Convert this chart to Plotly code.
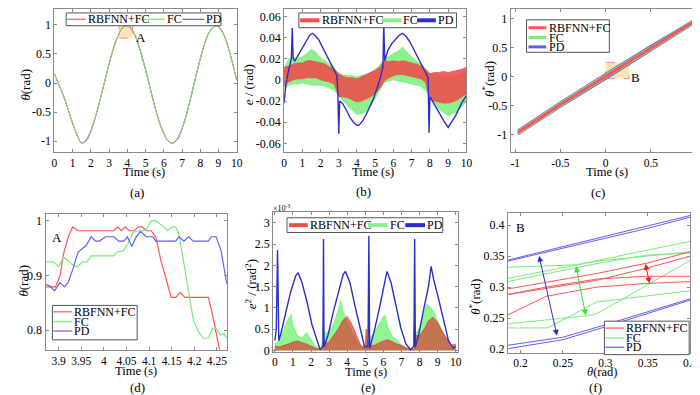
import plotly.graph_objects as go

W, H = 700, 395
FONT = "Liberation Serif"
series_names = ["RBFNN+FC", "FC", "PD"]
RED = "rgb(255,85,85)"
GREEN = "rgb(120,235,120)"
BLUE = "rgb(95,95,245)"
DBLUE = "rgb(45,45,205)"

# ---------------- (a) theta vs time ----------------
t_a = [0, 0.25, 0.5, 0.75, 1.0, 1.25, 1.5, 1.75, 2.0, 2.25, 2.5, 2.75, 3.0, 3.25, 3.5, 3.75,
       4.0, 4.25, 4.5, 4.75, 5.0, 5.25, 5.5, 5.75, 6.0, 6.25, 6.5, 6.75, 7.0, 7.25, 7.5, 7.75,
       8.0, 8.25, 8.5, 8.75, 9.0, 9.25, 9.5, 9.75, 10.0]
theta_a_rbf = [0.16, -0.03, -0.22, -0.45, -0.69, -0.90, -1.03, -0.97, -0.815, -0.58, -0.29, 0.02,
               0.33, 0.61, 0.82, 0.95, 0.98, 0.91, 0.75, 0.51, 0.22, -0.09, -0.40, -0.67, -0.87,
               -1.00, -1.03, -0.95, -0.78, -0.53, -0.22, 0.11, 0.42, 0.69, 0.88, 0.97, 0.96, 0.85,
               0.64, 0.36, 0.04]
theta_a_fc = [0.16, -0.03, -0.22, -0.45, -0.69, -0.90, -1.03, -0.97, -0.815, -0.58, -0.29, 0.02,
              0.33, 0.61, 0.82, 0.95, 0.98, 0.91, 0.75, 0.51, 0.22, -0.09, -0.40, -0.67, -0.87,
              -1.00, -1.03, -0.95, -0.78, -0.53, -0.22, 0.11, 0.42, 0.69, 0.88, 0.97, 0.96, 0.85,
              0.64, 0.36, 0.04]
theta_a_pd = [0.16, -0.03, -0.22, -0.45, -0.69, -0.90, -1.03, -0.99, -0.83, -0.59, -0.30, 0.01,
              0.32, 0.60, 0.81, 0.95, 0.98, 0.92, 0.76, 0.52, 0.23, -0.08, -0.39, -0.66, -0.86,
              -1.00, -1.03, -0.97, -0.79, -0.54, -0.23, 0.10, 0.41, 0.68, 0.87, 0.97, 0.97, 0.86,
              0.65, 0.37, 0.05]

# ---------------- (b) tracking error ----------------
t_b = [0, 0.25, 0.5, 0.75, 1.0, 1.25, 1.5, 1.75, 2.0, 2.25, 2.5, 2.75, 3.0, 3.25, 3.5, 3.75,
       4.0, 4.25, 4.5, 4.75, 5.0, 5.25, 5.5, 5.75, 6.0, 6.25, 6.5, 6.75, 7.0, 7.25, 7.5, 7.75,
       8.0, 8.25, 8.5, 8.75, 9.0, 9.25, 9.5, 9.75, 10.0]
e_rbf_upper = [0.012, 0.013, 0.015, 0.016, 0.016, 0.018, 0.018, 0.017, 0.016, 0.015, 0.012, 0.010,
               0.006, 0.003, 0.002, 0.002, 0.001, 0.003, 0.005, 0.007, 0.009, 0.012, 0.018, 0.017,
               0.018, 0.017, 0.018, 0.017, 0.016, 0.015, 0.013, 0.010, 0.006, 0.007, 0.007, 0.008,
               0.007, 0.008, 0.009, 0.010, 0.012]
e_rbf_lower = [-0.006, -0.002, 0.000, 0.001, 0.001, 0.002, 0.002, 0.002, 0.000, -0.001, -0.002,
               -0.004, -0.016, -0.016, -0.017, -0.019, -0.021, -0.020, -0.018, -0.016, -0.013,
               -0.008, -0.001, 0.002, 0.004, 0.005, 0.005, 0.004, 0.003, 0.002, 0.001, -0.002,
               -0.018, -0.020, -0.021, -0.022, -0.022, -0.021, -0.019, -0.016, -0.013]
e_fc_upper = [0.010, 0.020, 0.022, 0.020, 0.022, 0.025, 0.029, 0.026, 0.021, 0.018, 0.015, 0.012,
              0.005, 0.005, 0.004, 0.004, 0.003, 0.004, 0.005, 0.007, 0.010, 0.014, 0.020, 0.022,
              0.025, 0.027, 0.031, 0.026, 0.022, 0.018, 0.015, 0.011, 0.005, 0.005, 0.004, 0.004,
              0.003, 0.004, 0.005, 0.007, 0.010]
e_fc_lower = [-0.010, -0.005, -0.004, -0.004, -0.003, -0.004, -0.005, -0.005, -0.005, -0.006,
              -0.008, -0.010, -0.015, -0.020, -0.025, -0.029, -0.033, -0.032, -0.030, -0.025,
              -0.018, -0.010, -0.002, -0.001, 0.000, -0.001, -0.002, -0.003, -0.004, -0.005,
              -0.006, -0.010, -0.015, -0.022, -0.028, -0.031, -0.034, -0.032, -0.030, -0.026,
              -0.020]
t_b_pd = [0.0, 0.1, 0.2, 0.3, 0.4, 0.45, 0.5, 0.6, 0.8, 1.0, 1.2, 1.4, 1.55, 1.7, 1.9, 2.1, 2.3,
          2.5, 2.7, 2.9, 2.95, 3.0, 3.05, 3.2, 3.4, 3.6, 3.8, 4.0, 4.1, 4.3, 4.5, 4.7, 4.9, 5.1,
          5.3, 5.42, 5.47, 5.52, 5.7, 5.9, 6.1, 6.3, 6.5, 6.7, 6.9, 7.1, 7.3, 7.5, 7.7, 7.9, 7.95,
          8.0, 8.2, 8.4, 8.6, 8.8, 9.0, 9.2, 9.4, 9.6, 9.8, 10.0]
e_pd = [-0.022, -0.005, 0.005, 0.012, 0.020, 0.049, 0.020, 0.018, 0.024, 0.031, 0.037, 0.042,
        0.044, 0.042, 0.038, 0.031, 0.025, 0.017, 0.010, 0.004, -0.012, -0.051, -0.020, -0.022,
        -0.028, -0.035, -0.040, -0.043, -0.043, -0.039, -0.033, -0.026, -0.018, -0.008, 0.003,
        0.012, 0.052, 0.018, 0.028, 0.034, 0.038, 0.042, 0.044, 0.041, 0.036, 0.029, 0.022, 0.015,
        0.008, 0.002, -0.050, -0.016, -0.022, -0.028, -0.035, -0.040, -0.045, -0.040, -0.034,
        -0.027, -0.020, -0.015]

# ---------------- (c) theta* vs theta ----------------
x_c = [-0.97, -0.5, 0.0, 0.5, 0.97]
c_rbf_1 = [-0.960, -0.480, 0.005, 0.490, 0.945]
c_rbf_2 = [-0.950, -0.470, 0.020, 0.500, 0.950]
c_fc_1 = [-0.975, -0.495, -0.010, 0.475, 0.930]
c_fc_2 = [-0.940, -0.455, 0.035, 0.515, 0.955]
c_pd_1 = [-0.985, -0.510, -0.030, 0.455, 0.920]
c_pd_2 = [-0.930, -0.440, 0.050, 0.530, 0.965]

# ---------------- (d) zoom A ----------------
t_d_rbf = [3.871, 3.893, 3.903, 3.911, 3.921, 3.931, 3.943, 4.022, 4.031, 4.039, 4.047, 4.056,
           4.067, 4.076, 4.085, 4.094, 4.105, 4.115, 4.126, 4.137, 4.149, 4.159, 4.169, 4.179,
           4.231, 4.239, 4.248, 4.258]
th_d_rbf = [0.879, 0.879, 0.899, 0.940, 0.970, 0.989, 0.982, 0.982, 0.989, 0.982, 0.989, 0.982,
            0.982, 0.989, 0.989, 0.982, 0.982, 0.970, 0.928, 0.893, 0.860, 0.860, 0.869, 0.860,
            0.860, 0.833, 0.791, 0.755]
t_d_fc = [3.871, 3.889, 3.900, 3.911, 3.921, 3.932, 3.941, 3.954, 3.963, 3.972, 4.022, 4.029,
          4.044, 4.054, 4.065, 4.076, 4.087, 4.094, 4.105, 4.115, 4.130, 4.141, 4.151, 4.159,
          4.166, 4.177, 4.187, 4.198, 4.209, 4.220, 4.231, 4.240, 4.248, 4.258, 4.265, 4.272]
th_d_fc = [0.925, 0.925, 0.916, 0.934, 0.927, 0.919, 0.916, 0.925, 0.925, 0.936, 0.936, 0.943,
           0.946, 0.959, 0.979, 0.982, 0.982, 0.985, 1.000, 1.000, 0.991, 0.982, 0.989, 0.989,
           0.976, 0.922, 0.866, 0.818, 0.797, 0.785, 0.785, 0.803, 0.803, 0.791, 0.794, 0.785]
t_d_pd = [3.871, 3.880, 3.891, 3.903, 3.913, 3.921, 3.932, 3.943, 3.961, 3.972, 3.982, 3.990,
          4.004, 4.022, 4.033, 4.044, 4.052, 4.062, 4.071, 4.081, 4.094, 4.108, 4.115, 4.159,
          4.166, 4.177, 4.187, 4.198, 4.231, 4.238, 4.248, 4.259, 4.272]
th_d_pd = [0.884, 0.881, 0.872, 0.887, 0.879, 0.887, 0.913, 0.943, 0.955, 0.971, 0.963, 0.963,
           0.971, 0.971, 0.963, 0.963, 0.971, 0.953, 0.970, 0.981, 0.971, 0.971, 0.963, 0.963,
           0.971, 0.963, 0.971, 0.963, 0.963, 0.971, 0.971, 0.946, 0.884]

# ---------------- (e) squared error (x1e-3) ----------------
t_e_fc = [0, 0.25, 0.5, 0.75, 0.9, 1.0, 1.25, 1.5, 1.75, 2.0, 2.25, 2.5, 2.6, 2.65, 2.75, 3.0,
          3.25, 3.5, 3.65, 3.75, 4.0, 4.25, 4.5, 4.75, 5.0, 5.1, 5.15, 5.25, 5.5, 5.75, 6.0, 6.1,
          6.25, 6.5, 6.75, 7.0, 7.25, 7.5, 7.65, 7.7, 7.75, 8.0, 8.25, 8.4, 8.5, 8.75, 9.0, 9.25,
          9.5, 9.75, 10]
e2_fc = [0.15, 0.25, 0.5, 0.75, 0.85, 0.6, 0.35, 0.3, 0.42, 0.25, 0.1, 0.04, 0.02, 0.55, 0.4,
         0.45, 0.62, 0.95, 1.18, 0.95, 0.7, 0.45, 0.25, 0.1, 0.04, 0.5, 0.1, 0.3, 0.42, 0.62, 0.8,
         0.82, 0.55, 0.32, 0.25, 0.12, 0.05, 0.03, 0.02, 0.65, 0.35, 0.55, 0.9, 1.08, 1.05, 0.95,
         0.7, 0.45, 0.25, 0.06, 0.05]
t_e_rbf = [0, 0.25, 0.5, 0.75, 1.0, 1.25, 1.5, 1.75, 2.0, 2.25, 2.5, 2.65, 2.7, 2.75, 3.0, 3.25,
           3.5, 3.75, 4.0, 4.25, 4.5, 4.75, 5.0, 5.05, 5.1, 5.25, 5.5, 5.75, 6.0, 6.25, 6.5, 6.75,
           7.0, 7.25, 7.5, 7.7, 7.75, 8.0, 8.25, 8.5, 8.75, 9.0, 9.25, 9.5, 9.75, 10]
e2_rbf = [0.1, 0.08, 0.12, 0.15, 0.2, 0.22, 0.18, 0.15, 0.1, 0.05, 0.02, 0.02, 0.3, 0.15, 0.2,
          0.35, 0.5, 0.7, 0.8, 0.62, 0.35, 0.12, 0.05, 0.5, 0.08, 0.12, 0.12, 0.18, 0.22, 0.25,
          0.2, 0.15, 0.12, 0.06, 0.04, 0.02, 0.35, 0.35, 0.5, 0.7, 0.78, 0.65, 0.45, 0.3, 0.12,
          0.15]
t_e_pd = [0, 0.08, 0.15, 0.22, 0.33, 0.6, 0.87, 1.15, 1.29, 1.5, 1.78, 2.05, 2.33, 2.5, 2.66,
          2.69, 2.72, 2.96, 3.24, 3.5, 3.78, 3.9, 4.15, 4.42, 4.69, 4.96, 5.15, 5.2, 5.24, 5.5,
          5.78, 6.05, 6.2, 6.42, 6.69, 6.96, 7.24, 7.5, 7.69, 7.73, 7.77, 7.96, 8.24, 8.5, 8.64,
          8.78, 9.05, 9.33, 9.6, 9.87, 10]
e2_pd = [0.23, 0.5, 2.36, 0.23, 0.39, 0.92, 1.37, 1.75, 1.83, 1.6, 1.14, 0.61, 0.23, 0.02, 0.1,
         2.62, 0.08, 0.39, 0.92, 1.37, 1.79, 1.86, 1.6, 1.07, 0.54, 0.08, 0.1, 2.70, 0.05, 0.46,
         0.99, 1.52, 1.86, 1.6, 1.07, 0.54, 0.16, 0.01, 0.1, 2.62, 0.08, 0.39, 0.99, 1.52, 1.98,
         1.67, 1.22, 0.69, 0.23, 0.05, 0.1]

# ---------------- (f) zoom B ----------------
f_rbf = [
    ([0.185, 0.29, 0.35, 0.4], [0.297, 0.322, 0.339, 0.357]),
    ([0.185, 0.29, 0.35, 0.4], [0.288, 0.311, 0.331, 0.350]),
    ([0.185, 0.23, 0.29, 0.35, 0.4], [0.288, 0.300, 0.313, 0.3175, 0.3175]),
    ([0.185, 0.23, 0.29, 0.35, 0.4], [0.255, 0.285, 0.300, 0.306, 0.309]),
]
f_fc = [
    ([0.185, 0.266, 0.4], [0.332, 0.336, 0.374]),
    ([0.185, 0.266, 0.29, 0.4], [0.314, 0.335, 0.342, 0.357]),
    ([0.185, 0.29, 0.35, 0.4], [0.309, 0.338, 0.352, 0.355]),
    ([0.185, 0.232, 0.29, 0.4], [0.234, 0.234, 0.276, 0.294]),
    ([0.185, 0.28, 0.29, 0.4], [0.2405, 0.254, 0.257, 0.343]),
]
f_pd = [
    ([0.185, 0.35, 0.4], [0.3436, 0.399, 0.4157]),
    ([0.185, 0.35, 0.4], [0.3420, 0.395, 0.4130]),
    ([0.185, 0.25, 0.29, 0.4], [0.2060, 0.2190, 0.2350, 0.2810]),
    ([0.185, 0.25, 0.29, 0.4], [0.2005, 0.2150, 0.2315, 0.2790]),
]

# tick values
a_xticks = [0, 1, 2, 3, 4, 5, 6, 7, 8, 9, 10]
a_yticks = [-1, -0.5, 0, 0.5, 1]
b_yticks = [-0.06, -0.04, -0.02, 0, 0.02, 0.04, 0.06]
c_ticks = [-1, -0.5, 0, 0.5, 1]
d_xticks = [3.9, 3.95, 4, 4.05, 4.1, 4.15, 4.2, 4.25]
d_yticks = [0.8, 0.9, 1]
e_yticks = [0, 0.5, 1, 1.5, 2, 2.5, 3]
f_ticks = [0.2, 0.25, 0.3, 0.35, 0.4]


def fx(p):
    return p / W


def fy(p):
    return 1 - p / H


fig = go.Figure()
AX = {"a": ("x", "y"), "b": ("x2", "y2"), "c": ("x3", "y3"),
      "d": ("x4", "y4"), "e": ("x5", "y5"), "f": ("x6", "y6")}


def line(x, y, color, width, panel, name, shape="linear", **kw):
    fig.add_trace(go.Scatter(x=x, y=y, mode="lines", name=name, showlegend=False,
                             line=dict(color=color, width=width, shape=shape),
                             xaxis=AX[panel][0], yaxis=AX[panel][1], hoverinfo="skip", **kw))


def band(x, upper, lower, color, panel, name):
    fig.add_trace(go.Scatter(x=list(x) + list(x)[::-1], y=list(upper) + list(lower)[::-1],
                             mode="lines", fill="toself", fillcolor=color, name=name,
                             line=dict(color=color, width=0.8), showlegend=False,
                             xaxis=AX[panel][0], yaxis=AX[panel][1], hoverinfo="skip"))


# (a)
line(t_a, theta_a_pd, BLUE, 1, "a", series_names[2], shape="spline")
line(t_a, theta_a_rbf, RED, 1, "a", series_names[0], shape="spline")
line(t_a, theta_a_fc, GREEN, 1, "a", series_names[1], shape="spline")
# (b)
band(t_b, e_fc_upper, e_fc_lower, "rgba(130,240,130,0.9)", "b", series_names[1])
band(t_b, e_rbf_upper, e_rbf_lower, "rgba(240,70,70,0.85)", "b", series_names[0])
line(t_b_pd, e_pd, DBLUE, 1.4, "b", series_names[2])
# (c)
for yy in (c_pd_1, c_pd_2):
    line(x_c, yy, BLUE, 2.5, "c", series_names[2])
for yy in (c_fc_1, c_fc_2):
    line(x_c, yy, GREEN, 2.5, "c", series_names[1])
for yy in (c_rbf_1, c_rbf_2):
    line(x_c, yy, RED, 2.5, "c", series_names[0])
# (d)
line(t_d_rbf, th_d_rbf, RED, 1.2, "d", series_names[0])
line(t_d_fc, th_d_fc, GREEN, 1.2, "d", series_names[1])
line(t_d_pd, th_d_pd, BLUE, 1.2, "d", series_names[2])
# (e)
line(t_e_fc, e2_fc, "rgba(110,240,110,0.85)", 0.8, "e", series_names[1],
     fill="tozeroy", fillcolor="rgba(110,240,110,0.75)")
line(t_e_rbf, e2_rbf, "rgba(225,45,45,0.8)", 0.8, "e", series_names[0],
     fill="tozeroy", fillcolor="rgba(225,45,45,0.65)")
line(t_e_pd, e2_pd, DBLUE, 1.4, "e", series_names[2])
# (f)
for xx, yy in f_pd:
    line(xx, yy, BLUE, 1, "f", series_names[2])
for xx, yy in f_fc:
    line(xx, yy, GREEN, 1, "f", series_names[1])
for xx, yy in f_rbf:
    line(xx, yy, RED, 1, "f", series_names[0])


def axis(domain, rng, tickvals, anchor, size=12):
    return dict(domain=domain, range=rng, tickvals=tickvals,
                ticktext=[f"{v:g}" for v in tickvals], anchor=anchor,
                showline=True, mirror="ticks", linecolor="#8a8a8a", linewidth=1,
                ticks="inside", ticklen=3, tickcolor="#8a8a8a", showgrid=False,
                zeroline=False, tickfont=dict(family=FONT, size=size, color="black"))


layout = dict(width=W, height=H, margin=dict(l=0, r=0, t=0, b=0), showlegend=False,
              paper_bgcolor="white", plot_bgcolor="white")
top_y = [fy(146), fy(1)]
layout["xaxis"] = axis([fx(44), fx(229)], [0, 10], a_xticks, "y", 11.5)
layout["yaxis"] = axis(top_y, [-1.18, 1.27], a_yticks, "x")
layout["xaxis2"] = axis([fx(277), fx(462)], [0, 10], a_xticks, "y2", 11.5)
layout["yaxis2"] = axis(top_y, [-0.068, 0.067], b_yticks, "x2")
layout["xaxis3"] = axis([fx(507), fx(695)], [-1.05, 1.0], c_ticks, "y3", 11.5)
layout["yaxis3"] = axis(top_y, [-1.29, 1.17], c_ticks, "x3")
layout["xaxis4"] = axis([fx(35), fx(219)], [3.871, 4.272], d_xticks, "y4", 11.5)
layout["yaxis4"] = axis([fy(347), fy(209)], [0.764, 1.013], d_yticks, "x4")
layout["xaxis5"] = axis([fx(266), fx(453)], [-0.09, 10.1], a_xticks, "y5", 11.5)
layout["yaxis5"] = axis([fy(349), fy(207)], [-0.03, 3.26], e_yticks, "x5")
layout["xaxis6"] = axis([fx(504), fx(689)], [0.185, 0.4], f_ticks, "y6", 11.5)
layout["yaxis6"] = axis([fy(350), fy(208)], [0.194, 0.42], f_ticks, "x6")

shapes = []
annotations = []

# zoom boxes
shapes.append(dict(type="rect", xref="x", yref="y", x0=3.55, x1=4.28, y0=0.77, y1=1.0,
                   line=dict(color="rgb(255,130,190)", width=1, dash="dash"),
                   fillcolor="rgba(255,215,130,0.65)", layer="below"))
shapes.append(dict(type="rect", xref="x3", yref="y3", x0=0.0, x1=0.26, y0=-0.03, y1=0.25,
                   line=dict(color="rgb(255,130,190)", width=1, dash="dash"),
                   fillcolor="rgba(255,215,130,0.65)", layer="below"))


def text(x, y, s, size=13, angle=0, xanchor="center", ref=("paper", "paper")):
    annotations.append(dict(x=x, y=y, xref=ref[0], yref=ref[1], text=s, showarrow=False,
                            textangle=angle, xanchor=xanchor, yanchor="middle", borderpad=0,
                            font=dict(family=FONT, size=size, color="black")))


text(4.75, 0.78, "A", ref=("x", "y"))
text(0.334, -0.01, "B", ref=("x3", "y3"))
text(3.897, 0.969, "A", ref=("x4", "y4"))
text(0.2003, 0.396, "B", ref=("x6", "y6"))

# double-headed arrows in (f)
for (x0, y0, x1, y1, col) in [(0.2215, 0.353, 0.243, 0.2215, DBLUE),
                              (0.265, 0.336, 0.277, 0.254, "rgb(60,220,60)"),
                              (0.347, 0.340, 0.352, 0.306, "rgb(230,30,30)")]:
    annotations.append(dict(x=x1, y=y1, ax=x0, ay=y0, xref="x6", yref="y6", axref="x6",
                            ayref="y6", text="", showarrow=True, arrowhead=2, arrowsize=1.2,
                            arrowwidth=1, arrowcolor=col, arrowside="end+start"))

# axis titles
for (x, y) in [(135, 167), (367, 167), (605, 167)]:
    text(fx(x), fy(y), "Time (s)", size=12.5)
for (x, y) in [(127, 369), (360, 370)]:
    text(fx(x), fy(y), "Time (s)", size=12.5)
text(fx(600), fy(370), "<i>θ</i>(rad)", size=12.5)
text(fx(15), fy(78), "<i>θ</i>(rad)", angle=-90)
text(fx(241), fy(78), "<i>e</i> / (rad)", angle=-90)
text(fx(484), fy(72), "<i>θ</i><sup>*</sup>(rad)", angle=-90)
text(fx(13), fy(277), "<i>θ</i>(rad)", angle=-90)
text(fx(243), fy(281), "<i>e</i><sup>2</sup> / (rad<sup>2</sup>)", angle=-90)
text(fx(470), fy(293), "<i>θ</i><sup>*</sup>(rad)", angle=-90)
text(fx(274), fy(203), "×10<sup>-3</sup>", size=8)

# captions
for (x, y, s) in [(128, 187, "(a)"), (358, 186, "(b)"), (595, 187, "(c)"),
                  (128, 385, "(d)"), (362, 385, "(e)"), (593, 385, "(f)")]:
    text(fx(x), fy(y), s)

# legends (drawn as boxes, sample lines and labels)
colors = [RED, GREEN, BLUE]


def legend_box(x0, y0, x1, y1):
    shapes.append(dict(type="rect", xref="paper", yref="paper", x0=fx(x0), x1=fx(x1),
                       y0=fy(y1), y1=fy(y0), line=dict(color="#555", width=1),
                       fillcolor="white", layer="above"))


def legend_item(lx0, lx1, ly, color, width, label, tx):
    shapes.append(dict(type="line", xref="paper", yref="paper", x0=fx(lx0), x1=fx(lx1),
                       y0=fy(ly), y1=fy(ly), line=dict(color=color, width=width),
                       layer="above"))
    text(fx(tx), fy(ly), label, size=12, xanchor="left")


def legend_h(box, segs, width, cols):
    legend_box(*box)
    yc = (box[1] + box[3]) / 2
    for (lx0, lx1, tx), name, col in zip(segs, series_names, cols):
        legend_item(lx0, lx1, yc, col, width, name, tx)


def legend_v(box, lx0, lx1, tx, rows, width, cols):
    legend_box(*box)
    for ry, name, col in zip(rows, series_names, cols):
        legend_item(lx0, lx1, ry, col, width, name, tx)


legend_h((56, 5, 213, 18), [(57, 76, 77), (134, 156, 157), (174, 196, 197)], 1.2, colors)
legend_h((292, 5, 452, 20), [(293, 313, 314), (376, 396, 397), (412, 431, 432)], 4,
         ["rgb(240,80,80)", "rgb(140,240,140)", DBLUE])
legend_v((523, 12, 607, 45), 525, 543, 545, [20, 30, 39.5], 3, colors)
legend_v((42, 302, 128, 337), 43, 62, 63, [308.5, 318.5, 328], 1.2, colors)
legend_h((280, 213, 438, 228), [(282, 301, 302), (362, 382, 383), (400, 420, 421)], 4,
         ["rgb(240,80,80)", "rgb(140,240,140)", DBLUE])
legend_v((602, 318, 688, 352), 603, 622, 623, [325, 335, 344.5], 1.2, colors)

layout["shapes"] = shapes
layout["annotations"] = annotations
fig.update_layout(**layout)
fig.write_html("out.html")
